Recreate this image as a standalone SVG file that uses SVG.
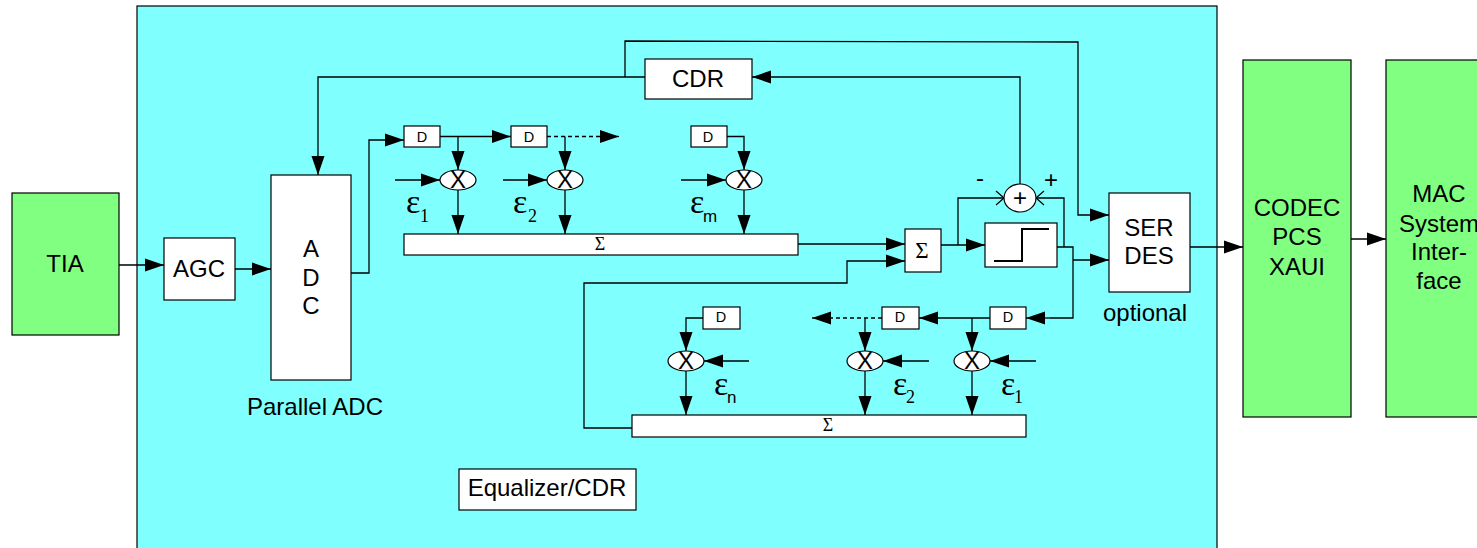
<svg xmlns="http://www.w3.org/2000/svg" width="1477" height="548" viewBox="0 0 1477 548">
<style>
.b{fill:#fff;stroke:#000;stroke-width:1.2}
.g{fill:#80ff80;stroke:#000;stroke-width:1.2}
.l{fill:none;stroke:#000;stroke-width:1.3}
.a{marker-end:url(#ah)}
.o{marker-end:url(#op)}
.d{stroke-dasharray:4 3}
text{font-family:"Liberation Sans",Arial,sans-serif;fill:#000;text-anchor:middle}
.t{font-size:24px}
.s{font-size:14.500px}
.e{font-family:"Liberation Serif","Times New Roman",serif;font-size:34px;text-anchor:start}
.u{font-size:17px;text-anchor:start}
.us{font-family:"Liberation Serif","Times New Roman",serif;font-size:18px;text-anchor:start}
.sg{font-family:"Liberation Serif","DejaVu Serif",serif;font-size:18px}
.x{font-size:24px}
</style>
<defs>
<marker id="ah" markerUnits="userSpaceOnUse" markerWidth="20" markerHeight="15" refX="19" refY="7" orient="auto"><polygon points="0,0.500 19,7 0,13.500" fill="#000"/></marker>
<marker id="op" markerUnits="userSpaceOnUse" markerWidth="10" markerHeight="16" refX="9" refY="8" orient="auto"><path d="M1,1 L9,8 L1,15" fill="none" stroke="#000" stroke-width="1.2"/></marker>
</defs>
<rect x="137" y="6" width="1080" height="550" fill="#80ffff" stroke="#000" stroke-width="1.2"/>
<g id="connectors">
<path class="l a" d="M119,265H164"/>
<path class="l a" d="M235,269H271"/>
<path class="l a" d="M351,273H369V140H404"/>
<path class="l a" d="M440,136.500H511"/>
<path class="l d" d="M547,136.500H600"/>
<path class="l a" d="M600,136.500H619"/>
<path class="l a" d="M458,136.500V170"/>
<path class="l a" d="M565,136.500V170"/>
<path class="l a" d="M727,136.500H744V170"/>
<path class="l a" d="M395,180H440"/>
<path class="l a" d="M503,180H547"/>
<path class="l a" d="M681,180H726"/>
<path class="l a" d="M458,190V234"/>
<path class="l a" d="M565,190V234"/>
<path class="l a" d="M744,190V234"/>
<path class="l a" d="M798,244H905"/>
<path class="l a" d="M632,428H584V283H847V261H905"/>
<path class="l a" d="M941,245H985"/>
<path class="l o" d="M958,245V198H1004"/>
<path class="l o" d="M1064,247V198H1036"/>
<path class="l" d="M1057,247H1073V318H1050"/>
<path class="l a" d="M1050,318H1026"/>
<path class="l a" d="M1073,260H1109"/>
<path class="l a" d="M1190,247H1243"/>
<path class="l a" d="M1351,239H1386"/>
<path class="l a" d="M1020,184V77H752"/>
<path class="l a" d="M645,77H318V175"/>
<path class="l a" d="M625,77V41L1078,42V215H1109"/>
<path class="l a" d="M990,318H919"/>
<path class="l a" d="M972,318V351"/>
<path class="l a" d="M1036,361H990"/>
<path class="l a" d="M972,371V415"/>
<path class="l d" d="M882,318H830"/>
<path class="l a" d="M830,318H812"/>
<path class="l a" d="M865,318V351"/>
<path class="l a" d="M929,361H883"/>
<path class="l a" d="M865,371V415"/>
<path class="l a" d="M703,318H686V351"/>
<path class="l a" d="M749,361H704"/>
<path class="l a" d="M686,371V415"/>
</g>
<g id="tia"><rect class="g" x="12" y="193" width="107" height="142"/><text class="t" x="65" y="272">TIA</text></g>
<g id="agc"><rect class="b" x="164" y="238" width="71" height="62"/><text class="t" x="199" y="277">AGC</text></g>
<g id="adc"><rect class="b" x="271" y="175" width="80" height="205"/><text class="t" x="311" y="257">A</text><text class="t" x="311" y="286">D</text><text class="t" x="311" y="314">C</text></g>
<text class="t" x="315" y="415">Parallel ADC</text>
<g id="cdr"><rect class="b" x="645" y="59" width="107" height="40"/><text class="t" x="698" y="87">CDR</text></g>
<g id="d-top-1"><rect class="b" x="404" y="126" width="36" height="21"/><text class="s" x="422" y="142">D</text></g>
<g id="d-top-2"><rect class="b" x="511" y="126" width="36" height="21"/><text class="s" x="529" y="142">D</text></g>
<g id="d-top-m"><rect class="b" x="691" y="126" width="36" height="21"/><text class="s" x="708" y="142">D</text></g>
<g id="x-top-1"><ellipse class="b" cx="458" cy="180" rx="18" ry="10"/><text class="x" x="458" y="188">X</text></g>
<g id="x-top-2"><ellipse class="b" cx="565" cy="180" rx="18" ry="10"/><text class="x" x="565" y="188">X</text></g>
<g id="x-top-m"><ellipse class="b" cx="744" cy="180" rx="18" ry="10"/><text class="x" x="744" y="188">X</text></g>
<text class="e" x="406" y="213">ε</text><text class="us" x="420" y="222">1</text>
<text class="e" x="513" y="213">ε</text><text class="us" x="528" y="222">2</text>
<text class="e" x="690" y="213">ε</text><text class="u" x="703" y="222">m</text>
<g id="sum-top"><rect class="b" x="404" y="234" width="394" height="21"/><text class="sg" x="600" y="250">Σ</text></g>
<g id="sum-main"><rect class="b" x="905" y="229" width="36" height="43"/><text class="sg" style="font-size:23px" x="922" y="258">Σ</text></g>
<g id="slicer"><rect class="b" x="985" y="223" width="72" height="44"/><path d="M994,261H1022V229H1049" fill="none" stroke="#000" stroke-width="2"/></g>
<g id="adder"><ellipse class="b" cx="1020" cy="198" rx="16" ry="14"/><text class="t" x="1020" y="206">+</text></g>
<text class="t" x="980" y="186">-</text>
<text class="t" x="1051" y="188">+</text>
<g id="serdes"><rect class="b" x="1109" y="193" width="81" height="99"/><text class="t" x="1149" y="236">SER</text><text class="t" x="1149" y="264">DES</text></g>
<text class="t" x="1145" y="321">optional</text>
<g id="d-bot-1"><rect class="b" x="990" y="307" width="36" height="22"/><text class="s" x="1008" y="322">D</text></g>
<g id="d-bot-2"><rect class="b" x="882" y="307" width="37" height="22"/><text class="s" x="900" y="322">D</text></g>
<g id="d-bot-n"><rect class="b" x="703" y="307" width="37" height="22"/><text class="s" x="721" y="322">D</text></g>
<g id="x-bot-n"><ellipse class="b" cx="686" cy="361" rx="18" ry="10"/><text class="x" x="686" y="369">X</text></g>
<g id="x-bot-2"><ellipse class="b" cx="865" cy="361" rx="18" ry="10"/><text class="x" x="865" y="369">X</text></g>
<g id="x-bot-1"><ellipse class="b" cx="972" cy="361" rx="18" ry="10"/><text class="x" x="972" y="369">X</text></g>
<text class="e" x="714" y="395">ε</text><text class="u" x="727" y="403">n</text>
<text class="e" x="893" y="395">ε</text><text class="us" x="906" y="403">2</text>
<text class="e" x="1001" y="395">ε</text><text class="us" x="1014" y="403">1</text>
<g id="sum-bot"><rect class="b" x="632" y="415" width="394" height="22"/><text class="sg" x="828" y="431">Σ</text></g>
<g id="equalizer"><rect class="b" x="459" y="469" width="177" height="41"/><text class="t" x="547" y="496">Equalizer/CDR</text></g>
<g id="codec"><rect class="g" x="1243" y="60" width="108" height="357"/><text class="t" x="1297" y="216">CODEC</text><text class="t" x="1297" y="245">PCS</text><text class="t" x="1297" y="275">XAUI</text></g>
<g id="mac"><rect class="g" x="1386" y="60" width="100" height="357"/><text class="t" x="1439" y="202">MAC</text><text class="t" x="1439" y="232">System</text><text class="t" x="1439" y="260">Inter-</text><text class="t" x="1439" y="289">face</text></g>
</svg>
